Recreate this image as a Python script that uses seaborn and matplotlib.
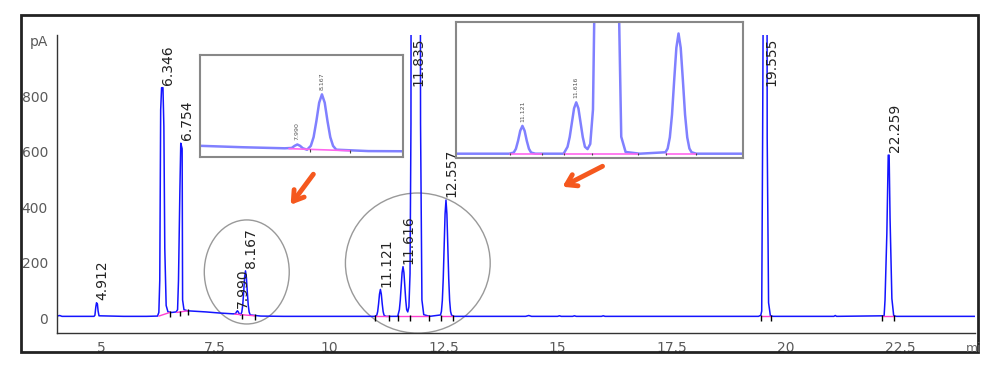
import numpy as np
import pandas as pd
import matplotlib
matplotlib.use('Agg')
import matplotlib.pyplot as plt
import seaborn as sns
from matplotlib.patches import Ellipse, Rectangle

# Chromatogram trace (time in min, signal in pA)
trace_time = [
    4.00, 4.10, 4.15, 4.85,
    4.87, 4.89, 4.905, 4.925, 4.94, 4.96,
    5.50, 6.00, 6.24,
    6.27, 6.29, 6.31, 6.33, 6.36, 6.38, 6.40, 6.43, 6.47,
    6.55, 6.65,
    6.68, 6.70, 6.73, 6.75, 6.78, 6.79, 6.82, 6.90,
    7.00, 7.30, 7.60, 7.90,
    7.95, 7.97, 7.99, 8.01, 8.03, 8.06,
    8.087, 8.107, 8.127, 8.147, 8.167, 8.187, 8.207, 8.227, 8.247, 8.27,
    8.50, 9.00, 10.00, 11.00,
    11.041, 11.061, 11.081, 11.101, 11.121, 11.141, 11.161, 11.181, 11.201, 11.24,
    11.50,
    11.536, 11.556, 11.576, 11.596, 11.616, 11.636, 11.656, 11.676, 11.696, 11.72, 11.745,
    11.77, 11.79, 11.80, 11.835, 11.90, 11.99, 12.00, 12.03, 12.07, 12.20,
    12.437, 12.457, 12.477, 12.497, 12.517, 12.537, 12.557, 12.577, 12.597, 12.617, 12.637,
    12.657, 12.677, 12.72,
    14.30, 14.37, 14.43, 15.00, 15.04, 15.08, 15.33, 15.37, 15.41,
    15.96, 16.00, 16.04, 19.40,
    19.45, 19.47, 19.49, 19.53, 19.58, 19.59, 19.62, 19.66, 19.72,
    21.05, 21.08, 21.11,
    22.15, 22.17, 22.21, 22.24, 22.26, 22.28, 22.32, 22.36, 22.42,
    24.14,
]
trace_signal = [
    6, 9, 6, 6,
    10, 40, 55, 50, 25, 8,
    6, 6, 7,
    20, 135, 750, 830, 830, 690, 250, 45, 22,
    20, 22,
    30, 135, 455, 630, 610, 65, 30, 26,
    25, 22, 18, 15,
    16, 22, 26, 22, 15, 11,
    22, 47, 93, 146, 170, 146, 93, 47, 22, 11,
    7, 6, 6, 6,
    10, 23, 51, 86, 103, 86, 51, 23, 10, 6,
    6,
    30, 64, 115, 164, 185, 164, 115, 64, 30, 22, 40,
    160, 700, 2500, 3000, 3000, 2000, 700, 65, 12, 6,
    11, 24, 63, 142, 262, 375, 425, 375, 262, 142, 63,
    24, 11, 6,
    6, 9, 6, 6, 8, 6, 6, 8, 6,
    6, 8, 6, 6,
    10, 25, 650, 2200, 2200, 650, 55, 8, 6,
    6, 9, 6,
    8, 65, 305, 587, 587, 360, 70, 8, 6,
    6,
]

# peak table (retention time labels and apex heights)
peak_rt = [4.912, 6.346, 6.754, 7.990, 8.167, 11.121, 11.616, 11.835, 12.557, 19.555, 22.259]
peak_height = [55, 830, 630, 26, 170, 103, 185, 3000, 425, 2200, 587]

# integration baselines (magenta) and event marks
seg_t0 = [6.27, 6.66, 7.93, 11.01, 11.50, 12.44, 19.455, 22.11]
seg_t1 = [6.51, 6.90, 8.37, 11.30, 12.18, 12.72, 19.67, 22.37]
seg_y0 = [7, 20, 14, 6, 6, 6, 6, 6]
seg_y1 = [20, 26, 8, 6, 6, 6, 6, 6]
mark_t = [6.51, 6.73, 6.90, 8.08, 8.37, 11.01, 11.30, 11.50, 11.76, 12.18, 12.44, 12.72, 19.455, 19.67, 22.11, 22.37]
mark_y = [20, 22, 26, 11, 8, 6, 6, 6, 6, 6, 6, 6, 6, 6, 6, 6]

x_ticks = [5, 7.5, 10, 12.5, 15, 17.5, 20, 22.5]
x_tick_labels = ['5', '7.5', '10', '12.5', '15', '17.5', '20', '22.5']
y_ticks = [0, 200, 400, 600, 800, 1000]
y_tick_labels = ['0', '200', '400', '600', '800', 'pA']

df = pd.DataFrame({'time': trace_time, 'signal': trace_signal})

sns.set_style('white')
plt.rcParams['font.family'] = ['Liberation Sans Narrow', 'DejaVu Sans']

W, H = 992, 369
fig = plt.figure(figsize=(9.92, 3.69), dpi=100)

# outer frame
fig.add_artist(Rectangle((21 / W, 1 - 352 / H), 957 / W, 337 / H, fill=False,
                         ec='#222222', lw=2, transform=fig.transFigure))

ax = fig.add_axes([57 / W, 1 - 333 / H, (975 - 57) / W, (333 - 35) / H])
sns.lineplot(data=df, x='time', y='signal', ax=ax, color='#1414ff', lw=1.1,
             estimator=None, sort=False)
ax.set_xlim(4.04, 24.14)
ax.set_ylim(-54, 1020)
ax.set_xlabel('')
ax.set_ylabel('')
for s in ['top', 'right']:
    ax.spines[s].set_visible(False)
for s in ['left', 'bottom']:
    ax.spines[s].set_color('#333333')
    ax.spines[s].set_linewidth(1)

ax.set_xticks(x_ticks)
ax.set_xticklabels(x_tick_labels)
ax.set_xticks(np.arange(4.5, 24.1, 0.5), minor=True)
ax.set_yticks(y_ticks)
ax.set_yticklabels(y_tick_labels)
ax.set_yticks(np.arange(-50, 1001, 50), minor=True)
ax.tick_params(axis='both', which='both', direction='out', color='#333333',
               labelcolor='#5a5a5a', labelsize=10, pad=1.5)
ax.tick_params(axis='x', which='both', length=4)
ax.tick_params(axis='y', which='major', length=5)
ax.tick_params(axis='y', which='minor', length=3)
fig.text(966 / W, 1 - 348 / H, 'mi', color='#666666', fontsize=9, va='center')

# integration baselines and marks
for t0, t1, y0, y1 in zip(seg_t0, seg_t1, seg_y0, seg_y1):
    ax.plot([t0, t1], [y0, y1], color='#ff40d0', lw=1)
ax.vlines(mark_t, [y - 16 for y in mark_y], [y + 5 for y in mark_y], color='black', lw=1)

# peak labels
top = ax.get_ylim()[1]
for rt, h in zip(peak_rt, peak_height):
    if h > top:
        ax.annotate(f'{rt:.3f}', xy=(rt, top), xytext=(4, -2), textcoords='offset points',
                    rotation=90, ha='center', va='top', fontsize=10, color='#222222',
                    family=['DejaVu Sans'])
    else:
        ax.annotate(f'{rt:.3f}', xy=(rt, h), xytext=(4, 2), textcoords='offset points',
                    rotation=90, ha='center', va='bottom', fontsize=10, color='#222222',
                    family=['DejaVu Sans'])

# circles around zoomed regions
ax.add_patch(Ellipse((8.195, 166), 1.86, 375, fill=False, ec='#999999', lw=1, clip_on=False))
ax.add_patch(Ellipse((11.94, 198), 3.17, 505, fill=False, ec='#999999', lw=1, clip_on=False))

# arrows
arrow_kw = dict(arrowstyle='->, head_length=0.7, head_width=0.45', color='#f5581e', lw=3.5)
ax.annotate('', xy=(289 / W, 1 - 207 / H), xycoords='figure fraction',
            xytext=(315 / W, 1 - 172 / H), textcoords='figure fraction', arrowprops=arrow_kw)
ax.annotate('', xy=(560 / W, 1 - 188 / H), xycoords='figure fraction',
            xytext=(605 / W, 1 - 165 / H), textcoords='figure fraction', arrowprops=arrow_kw)


def draw_inset(rect, xlim, ylim, labels):
    a = fig.add_axes(rect)
    a.set_facecolor('white')
    sns.lineplot(data=df, x='time', y='signal', ax=a, color='#8080ff', lw=1.8,
                 estimator=None, sort=False)
    for t0, t1, y0, y1 in zip(seg_t0, seg_t1, seg_y0, seg_y1):
        a.plot([t0, t1], [y0, y1], color='#ff66ee', lw=1.2)
    a.vlines(mark_t, [y - 6 for y in mark_y], [y + 2 for y in mark_y], color='#444444', lw=0.8)
    a.set_xlim(*xlim)
    a.set_ylim(*ylim)
    a.set_xticks([])
    a.set_yticks([])
    a.set_xlabel('')
    a.set_ylabel('')
    for s in a.spines.values():
        s.set_color('#888888')
        s.set_linewidth(1.5)
    for rt, h in zip(peak_rt, peak_height):
        if rt in labels:
            a.annotate(f'{rt:.3f}', xy=(rt, h), xytext=(0, 3), textcoords='offset points',
                       rotation=90, ha='center', va='bottom', fontsize=4.5, color='#555555',
                       family=['DejaVu Sans'])
    return a


draw_inset([200 / W, 1 - 157 / H, 203 / W, 102 / H], (7.29, 8.75), (-10, 283), [7.990, 8.167])
draw_inset([456 / W, 1 - 158 / H, 287 / W, 136 / H], (10.51, 13.15), (-9, 465), [11.121, 11.616])

fig.savefig('out.png', dpi=100)
